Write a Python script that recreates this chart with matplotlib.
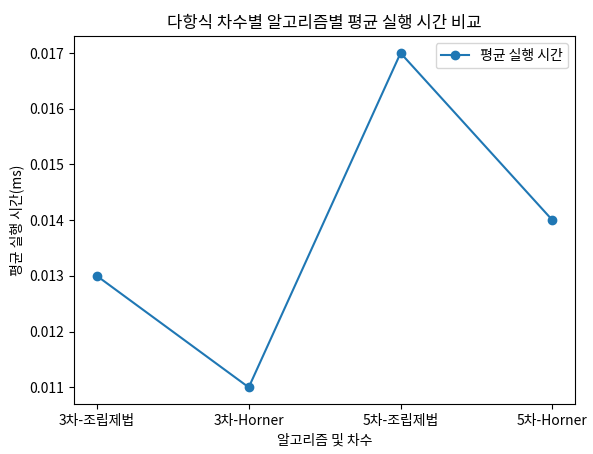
import matplotlib
matplotlib.use("Agg")
import matplotlib.pyplot as plt

plt.rcParams['font.family'] = ['Noto Sans CJK KR', 'DejaVu Sans']
plt.rcParams['axes.unicode_minus'] = False

labels = ['3차-조립제법', '3차-Horner', '5차-조립제법', '5차-Horner']
avg_times = [0.013, 0.011, 0.017, 0.014]

fig, ax = plt.subplots(figsize=(5.93, 4.54), dpi=100)
ax.plot(labels, avg_times, marker='o', label='평균 실행 시간')
ax.set_title('다항식 차수별 알고리즘별 평균 실행 시간 비교')
ax.set_xlabel('알고리즘 및 차수')
ax.set_ylabel('평균 실행 시간(ms)')
ax.legend()
fig.subplots_adjust(left=0.125, right=0.97, top=0.92, bottom=0.11)
fig.savefig('out.png')
